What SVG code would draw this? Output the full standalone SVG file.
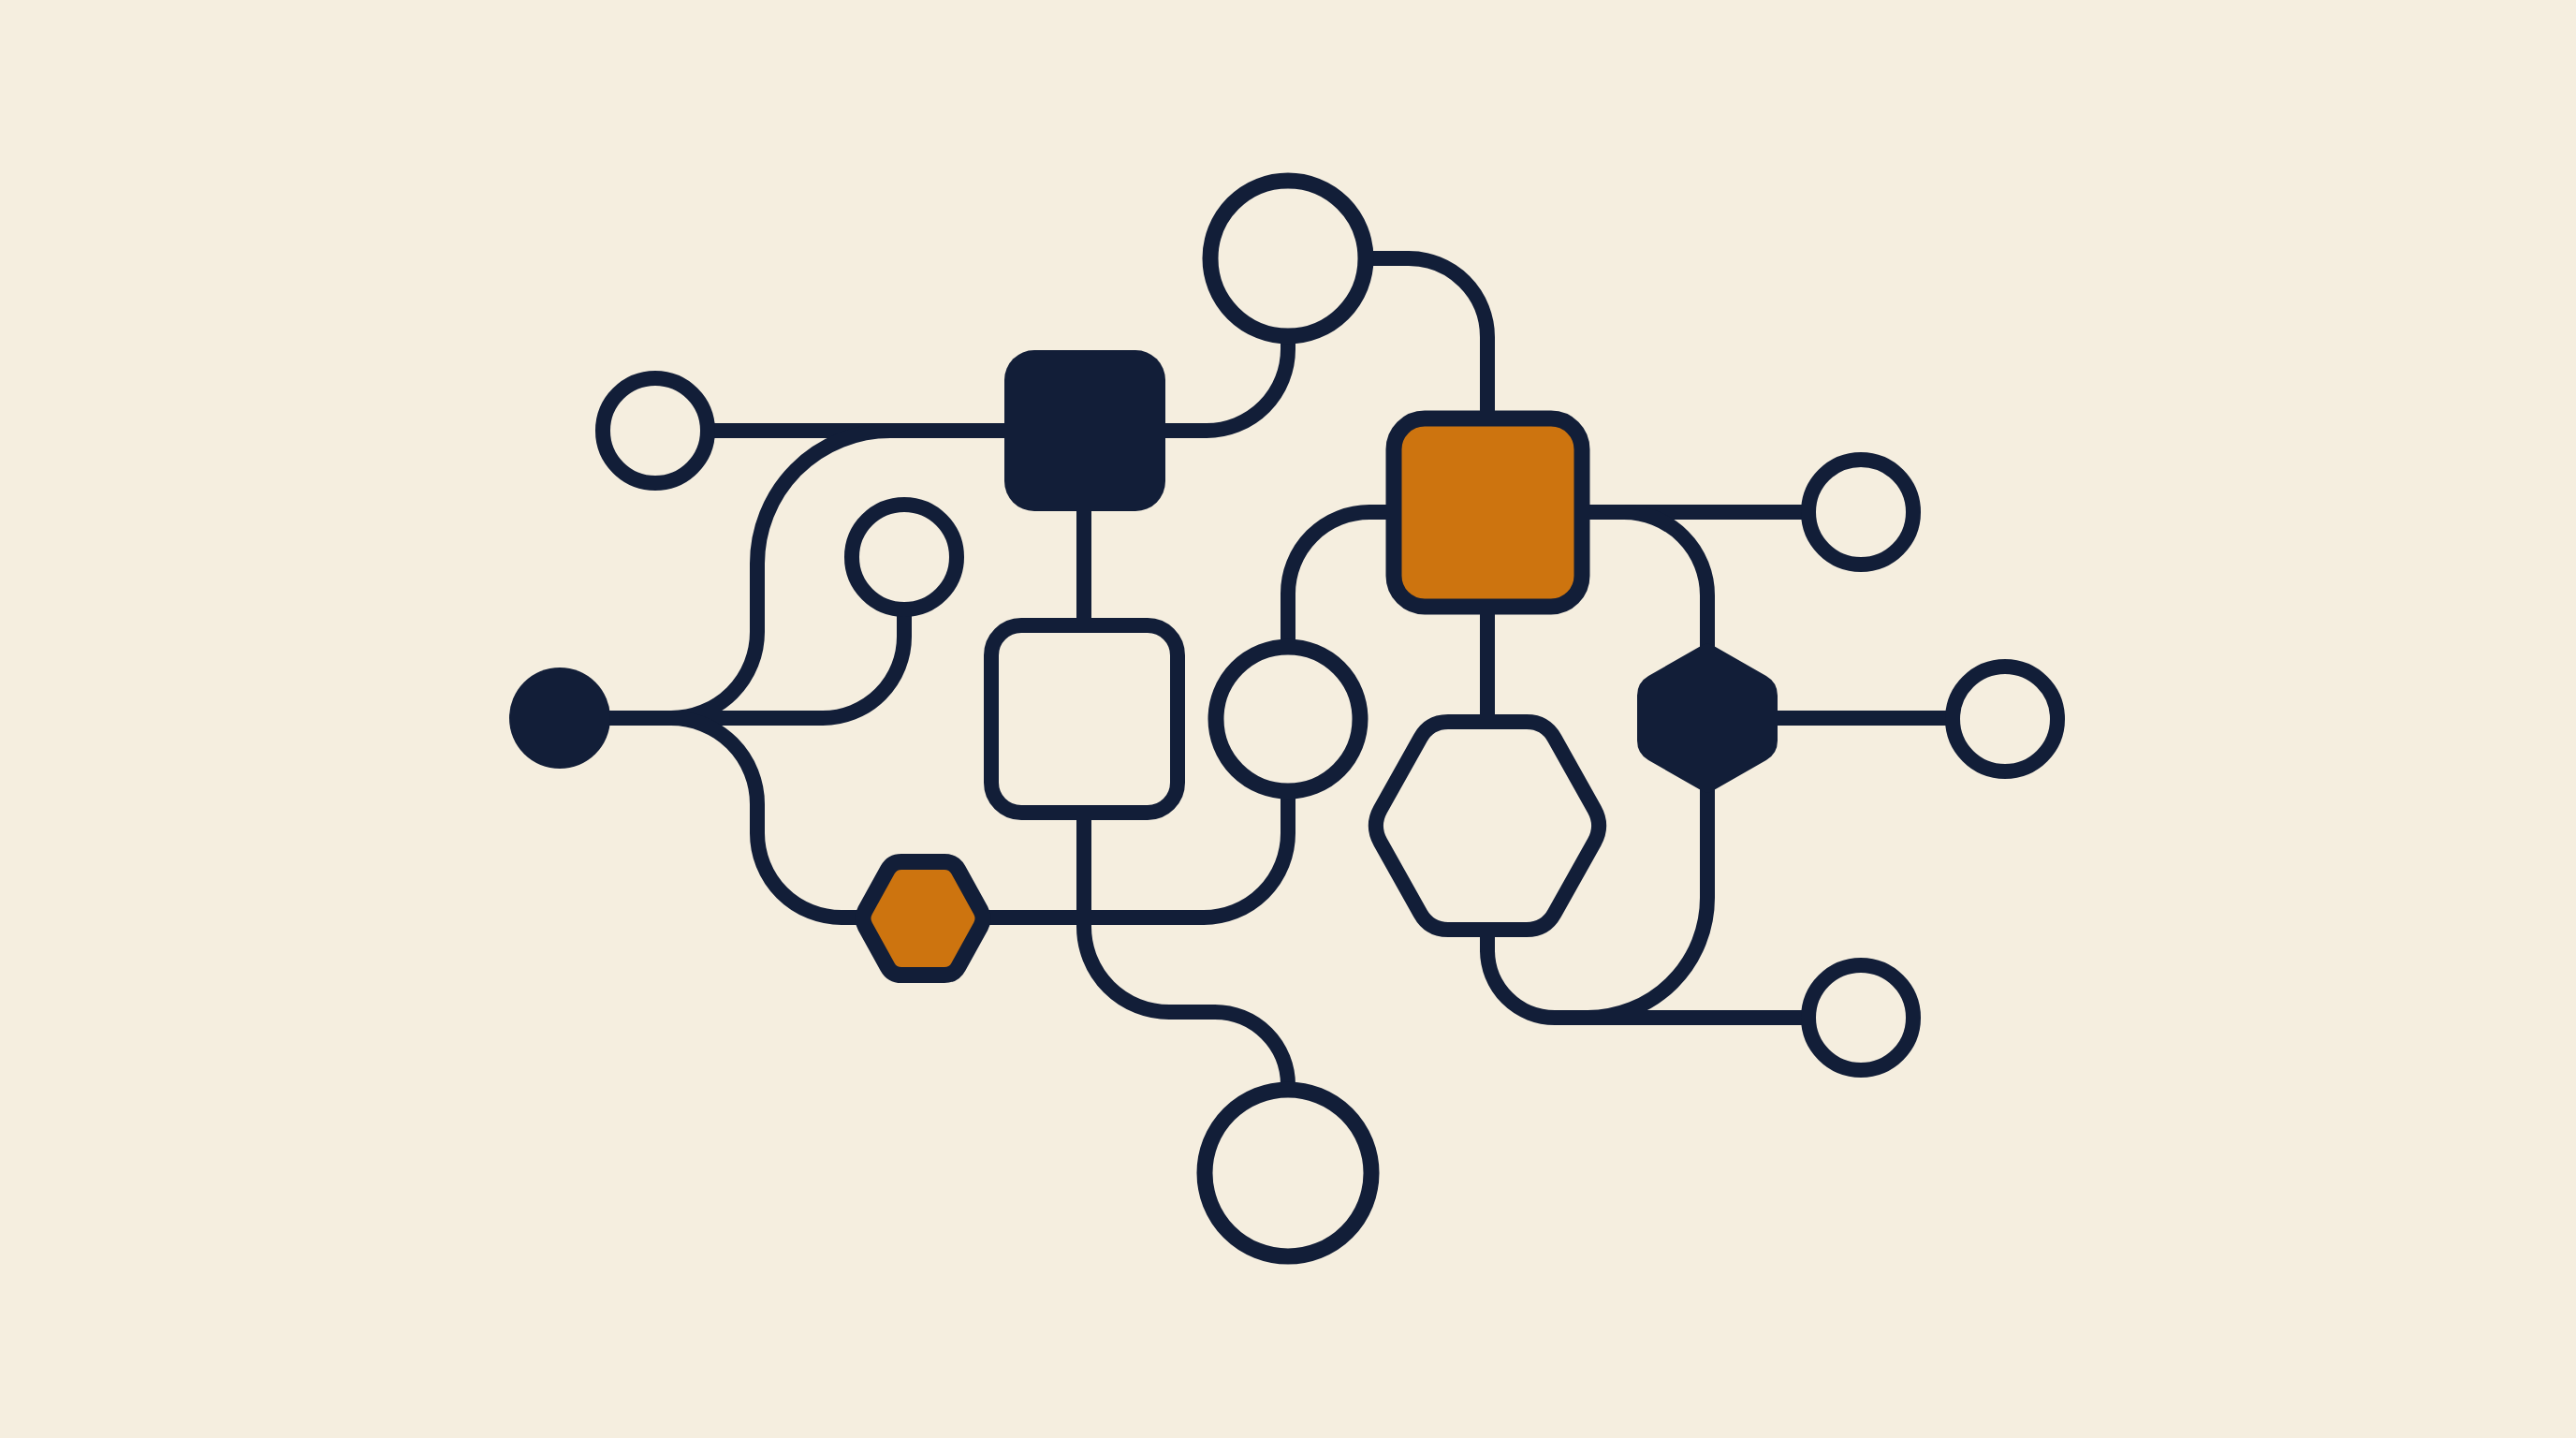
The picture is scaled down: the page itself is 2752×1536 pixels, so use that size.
<svg xmlns="http://www.w3.org/2000/svg" width="2752" height="1536" viewBox="0 0 2752 1536">
<style>
.bg{fill:#f5eedf}
.wire{fill:none;stroke:#121e38;stroke-width:16;stroke-linecap:butt;stroke-linejoin:round}
.ring{fill:#f5eedf;stroke:#121e38;stroke-width:16}
.ringL{fill:#f5eedf;stroke:#121e38;stroke-width:17}
.solid{fill:#121e38}
.box{fill:#f5eedf;stroke:#121e38;stroke-width:16;stroke-linejoin:round}
.obox{fill:#cd740f;stroke:#121e38;stroke-width:17;stroke-linejoin:round}
</style>
<rect class="bg" x="0" y="0" width="2752" height="1536"/>
<g id="connectors">
<path class="wire" d="M 700 460 H 1158"/>
<path class="wire" d="M 1158 460 H 951 A 142 142 0 0 0 809 602 V 675 A 92 92 0 0 1 717 767"/>
<path class="wire" d="M 598 767 H 879 A 87 87 0 0 0 966 680 V 595"/>
<path class="wire" d="M 717 767 A 92 92 0 0 1 809 859 V 890 A 90 90 0 0 0 899 980 H 986"/>
<path class="wire" d="M 1158 460 V 768"/>
<path class="wire" d="M 1245 460 H 1289 A 87 87 0 0 0 1376 373 V 276"/>
<path class="wire" d="M 1376 276 H 1505 A 84 84 0 0 1 1589 360 V 547"/>
<path class="wire" d="M 986 980 H 1286 A 90 90 0 0 0 1376 890 V 768"/>
<path class="wire" d="M 1158 768 V 990 A 91 91 0 0 0 1249 1081 H 1298 A 78 78 0 0 1 1376 1159 V 1253"/>
<path class="wire" d="M 1376 768 V 634 A 87 87 0 0 1 1463 547 H 1589"/>
<path class="wire" d="M 1589 547 H 1988"/>
<path class="wire" d="M 1690 547 H 1735 A 89 89 0 0 1 1824 636 V 767"/>
<path class="wire" d="M 1589 547 V 882"/>
<path class="wire" d="M 1824 767 H 2142"/>
<path class="wire" d="M 1824 767 V 959 A 128 128 0 0 1 1696 1087 H 1988"/>
<path class="wire" d="M 1589 882 V 1015 A 72 72 0 0 0 1661 1087 H 1700"/>
</g>
<g id="node-top-circle"><circle class="ringL" cx="1376" cy="276" r="83"/></g>
<g id="node-left-circle"><circle class="ring" cx="700" cy="460" r="56"/></g>
<g id="node-dark-square"><rect class="solid" x="1073" y="374" width="172" height="172" rx="32"/></g>
<g id="node-small-circle"><circle class="ring" cx="966" cy="595" r="56"/></g>
<g id="node-filled-circle"><circle class="solid" cx="598" cy="767" r="54"/></g>
<g id="node-outline-square"><rect class="box" x="1059" y="668" width="199" height="200" rx="32"/></g>
<g id="node-orange-hexagon"><path class="obox" d="M 924.3 972.3 L 948.2 929.2 Q 953 920.5 963 920.5 L 1009 920.5 Q 1019 920.5 1023.8 929.2 L 1047.7 972.3 Q 1052.5 981 1047.7 989.7 L 1023.8 1032.8 Q 1019 1041.5 1009 1041.5 L 963 1041.5 Q 953 1041.5 948.2 1032.8 L 924.3 989.7 Q 919.5 981 924.3 972.3 Z"/></g>
<g id="node-middle-circle"><circle class="ringL" cx="1376" cy="768" r="77"/></g>
<g id="node-bottom-circle"><circle class="ringL" cx="1376" cy="1253" r="89"/></g>
<g id="node-orange-square"><rect class="obox" x="1489" y="447" width="201" height="201" rx="33"/></g>
<g id="node-outline-hexagon"><path class="box" d="M 1474.7 864.5 L 1517.3 788.5 Q 1527 771 1547 771 L 1631 771 Q 1651 771 1660.7 788.5 L 1703.3 864.5 Q 1713 882 1703.3 899.5 L 1660.7 975.5 Q 1651 993 1631 993 L 1547 993 Q 1527 993 1517.3 975.5 L 1474.7 899.5 Q 1465 882 1474.7 864.5 Z"/></g>
<g id="node-dark-hexagon"><path class="solid" d="M 1829.2 689 L 1886.9 722 Q 1899 729 1899 743 L 1899 791 Q 1899 805 1886.9 812 L 1829.2 845 Q 1824 848 1818.8 845 L 1761.1 812 Q 1749 805 1749 791 L 1749 743 Q 1749 729 1761.1 722 L 1818.8 689 Q 1824 686 1829.2 689 Z"/></g>
<g id="node-right-circle-top"><circle class="ring" cx="1988" cy="547" r="56"/></g>
<g id="node-right-circle-mid"><circle class="ring" cx="2142" cy="768" r="56"/></g>
<g id="node-right-circle-bottom"><circle class="ring" cx="1988" cy="1087" r="56"/></g>
</svg>
